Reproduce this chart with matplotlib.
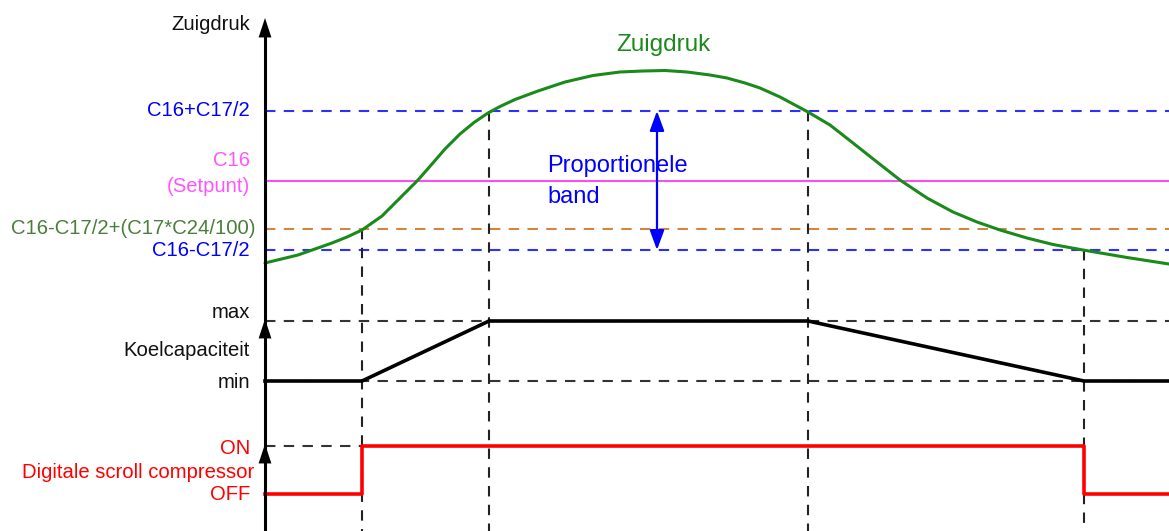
import numpy as np
import matplotlib.pyplot as plt

plt.rcParams['font.family'] = ['Liberation Sans', 'DejaVu Sans']

# diagram coordinates (pixels of the original picture, y grows downward)
x_axis = 265
x_end = 1169

# levels
lvl_hi = 111        # C16+C17/2
lvl_set = 181       # C16 (Setpunt)
lvl_on_start = 229  # C16-C17/2+(C17*C24/100)
lvl_lo = 250        # C16-C17/2
cap_max = 321
cap_min = 381
dig_on = 446
dig_off = 494

# switching moments
t_start = 362
t_full = 489
t_drop = 808
t_stop = 1084

# suction pressure curve
zd_x = [265, 298, 332, 347, 362, 382, 400, 418, 432, 445, 460, 474, 488, 500,
        515, 538, 565, 593, 620, 643, 665, 687, 710, 727, 745, 760, 780, 808,
        830, 853, 877, 900, 927, 953, 977, 1000, 1027, 1053, 1083, 1127, 1169]
zd_y = [263, 255, 243, 237, 230, 216, 198, 180, 164, 149, 134, 122.5, 113, 106.5,
        99.5, 91, 82, 75.5, 72, 71, 70.5, 72, 75, 78, 83, 88, 97, 112,
        125, 143, 162, 180, 198, 212, 222, 230, 238, 244.5, 250, 257.5, 264]

# cooling capacity and digital scroll state
cap_x = [265, t_start, t_full, t_drop, t_stop, 1169]
cap_y = [cap_min, cap_min, cap_max, cap_max, cap_min, cap_min]
dig_x = [265, t_start, t_start, t_stop, t_stop, 1169]
dig_y = [dig_off, dig_off, dig_on, dig_on, dig_off, dig_off]

fig = plt.figure(figsize=(11.69, 5.31), dpi=100)
ax = fig.add_axes([0, 0, 1, 1])
ax.set_xlim(0, 1169)
ax.set_ylim(531, 0)
ax.axis('off')

dash = (0, (5, 4))
blue = '#2f2fff'
# horizontal reference lines
ax.plot([x_axis, x_end], [lvl_hi, lvl_hi], color=blue, lw=1.5, ls=dash)
ax.plot([x_axis, x_end], [lvl_lo, lvl_lo], color=blue, lw=1.5, ls=dash)
ax.plot([x_axis, x_end], [lvl_on_start, lvl_on_start], color='#cc8844', lw=1.5, ls=dash)
ax.plot([x_axis, x_end], [lvl_set, lvl_set], color='#ff44ff', lw=1.4)
ax.plot([x_axis, x_end], [cap_max, cap_max], color='#333333', lw=1.5, ls=dash)
ax.plot([x_axis, x_end], [cap_min, cap_min], color='#333333', lw=1.5, ls=dash)
ax.plot([x_axis, t_start], [dig_on, dig_on], color='#333333', lw=1.5, ls=dash)

# vertical guide lines
for tx, ty in [(t_start, lvl_on_start), (t_full, lvl_hi), (t_drop, lvl_hi), (t_stop, lvl_lo)]:
    ax.plot([tx, tx], [ty, 531], color='#222222', lw=1.5, ls=dash)

# curves
ax.plot(zd_x, zd_y, color='#1a8a1a', lw=2.2, solid_capstyle='round', solid_joinstyle='round')
ax.plot(cap_x, cap_y, color='black', lw=2.6)
ax.plot(dig_x, dig_y, color='#ff0000', lw=2.6)

# vertical axis with arrow heads
ax.plot([x_axis, x_axis], [30, 531], color='black', lw=2.2)
for ay in [18, cap_max - 2, dig_on - 2]:
    ax.annotate('', xy=(x_axis, ay), xytext=(x_axis, ay + 22),
                arrowprops=dict(arrowstyle='-|>,head_length=0.7,head_width=0.23',
                                color='black', lw=0, mutation_scale=20,
                                shrinkA=0, shrinkB=0))

# proportional band arrow
ax.annotate('', xy=(657, lvl_hi), xytext=(657, lvl_lo),
            arrowprops=dict(arrowstyle='<|-|>,head_length=0.6,head_width=0.22',
                            color='#0000ff', lw=1.6, mutation_scale=20,
                            shrinkA=0, shrinkB=0))
ax.text(547, 166, 'Proportionele', color='#0000ff', fontsize=17, va='center', ha='left')
ax.text(547, 197, 'band', color='#0000ff', fontsize=17, va='center', ha='left')
ax.text(663, 45, 'Zuigdruk', color='#1a8a1a', fontsize=17.5, va='center', ha='center')

# left labels
lx = 250
fs = 14.6
ax.text(lx, 24, 'Zuigdruk', color='#111111', fontsize=fs, ha='right', va='center')
ax.text(lx, lvl_hi, 'C16+C17/2', color='#0000ff', fontsize=fs, ha='right', va='center')
ax.text(lx, 160, 'C16', color='#ff55ff', fontsize=fs, ha='right', va='center')
ax.text(lx, 186, '(Setpunt)', color='#ff55ff', fontsize=fs, ha='right', va='center')
ax.text(256, lvl_on_start, 'C16-C17/2+(C17*C24/100)', color='#4a7f3a', fontsize=fs,
        ha='right', va='center')
ax.text(lx, lvl_lo, 'C16-C17/2', color='#0000ff', fontsize=fs, ha='right', va='center')
ax.text(lx, 313, 'max', color='#111111', fontsize=fs, ha='right', va='center')
ax.text(lx, 351, 'Koelcapaciteit', color='#111111', fontsize=fs, ha='right', va='center')
ax.text(lx, 382, 'min', color='#111111', fontsize=fs, ha='right', va='center')
ax.text(lx, 448, 'ON', color='#ff0000', fontsize=fs, ha='right', va='center')
ax.text(254, 472, 'Digitale scroll compressor', color='#ff0000', fontsize=fs, ha='right', va='center')
ax.text(lx, 495, 'OFF', color='#ff0000', fontsize=fs, ha='right', va='center')

fig.savefig('out.png', dpi=100)
